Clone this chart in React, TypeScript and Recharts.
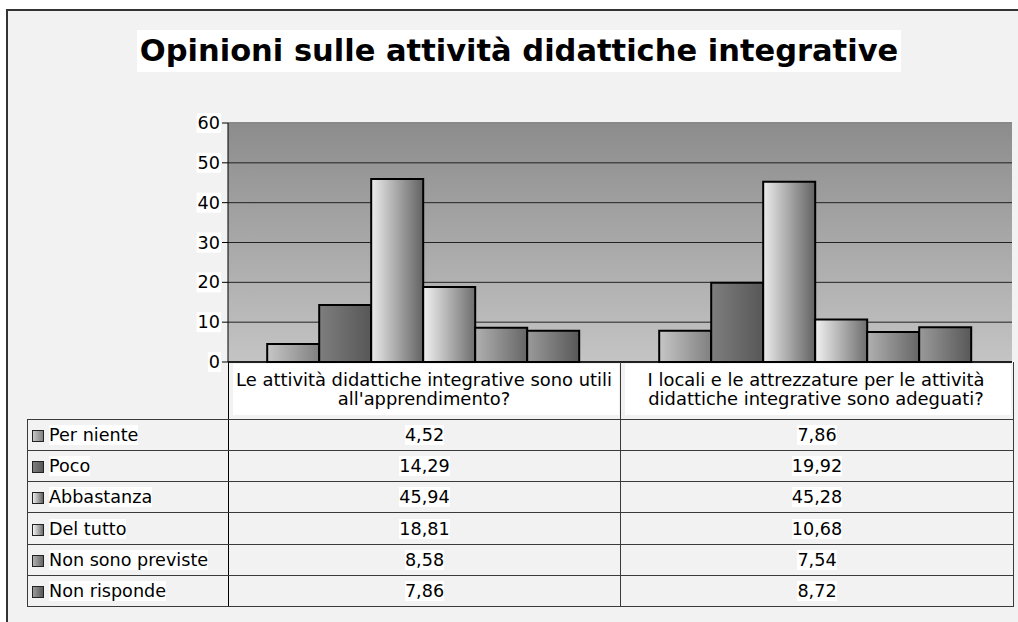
import React from 'react'
import { BarChart, Bar, XAxis, YAxis, CartesianGrid, ReferenceLine } from 'recharts'

const categories = ['q1', 'q2']
const categoryLines = [
  ['Le attività didattiche integrative sono utili', "all'apprendimento?"],
  ['I locali e le attrezzature per le attività', 'didattiche integrative sono adeguati?'],
]
const seriesNames = ['Per niente', 'Poco', 'Abbastanza', 'Del tutto', 'Non sono previste', 'Non risponde']
const perNiente = [4.52, 7.86]
const poco = [14.29, 19.92]
const abbastanza = [45.94, 45.28]
const delTutto = [18.81, 10.68]
const nonPreviste = [8.58, 7.54]
const nonRisponde = [7.86, 8.72]
const yTicks = [0, 10, 20, 30, 40, 50, 60]

const seriesValues = [perNiente, poco, abbastanza, delTutto, nonPreviste, nonRisponde]

// left / right shade of each bar gradient
const shades = [
  ['#c6c6c6', '#808080'],
  ['#7e7e7e', '#575757'],
  ['#ececec', '#626262'],
  ['#f2f2f2', '#6e6e6e'],
  ['#b0b0b0', '#666666'],
  ['#9a9a9a', '#585858'],
]

const data = categories.map((c, i) => {
  const row: Record<string, any> = { name: c, idx: i }
  seriesNames.forEach((s, k) => { row[s] = seriesValues[k][i] })
  return row
})

const FONT = '"DejaVu Sans", Verdana, sans-serif'
const fmt = (v: number) => v.toFixed(2).replace('.', ',')

function YTick({ x, y, payload }: any) {
  const label = String(payload.value)
  const w = label.length * 11.2 + 2
  return (
    <g>
      <rect x={x - w + 1} y={y - 10} width={w} height={20} fill="#fff" />
      <text x={x} y={y} textAnchor="end" dominantBaseline="central" fontSize={17.6} fontFamily={FONT} fill="#000">
        {label}
      </text>
    </g>
  )
}

function XTick({ x, y, payload }: any) {
  const lines = categoryLines[categories.indexOf(payload.value)] || []
  return (
    <g>
      <rect x={x - 191} y={y + 2} width={386} height={51} fill="#fff" />
      {lines.map((l, i) => (
        <text key={i} x={x} y={y + 17 + i * 19} textAnchor="middle" dominantBaseline="central" fontSize={17.9} fontFamily={FONT} fill="#000">
          {l}
        </text>
      ))}
    </g>
  )
}

const cellBorder = '1px solid #3a3a3a'

export default function App() {
  return (
    <div style={{ position: 'absolute', left: 0, top: 0, width: 1018, height: 622, background: '#fff', overflow: 'hidden', fontFamily: FONT }}>
      <div style={{ position: 'absolute', left: 6, top: 9, width: 1040, height: 640, border: '2px solid #333', background: '#f2f2f2' }} />
      <div style={{ position: 'absolute', left: 10, top: 30, width: 1018, textAlign: 'center' }}>
        <span style={{ background: '#fff', fontWeight: 'bold', fontSize: 30.5, lineHeight: '42px', padding: '0 3px', display: 'inline-block' }}>
          Opinioni sulle attività didattiche integrative
        </span>
      </div>
      <div style={{ position: 'absolute', left: 0, top: 0 }}>
        <BarChart
          width={1018}
          height={622}
          data={data}
          margin={{ top: 123, right: 6, left: 168, bottom: 203 }}
          barCategoryGap="10%"
          barGap={0}
        >
          <defs>
            <linearGradient id="plotBg" x1="0" y1="0" x2="0" y2="1">
              <stop offset="0%" stopColor="#8c8c8c" />
              <stop offset="100%" stopColor="#c4c4c4" />
            </linearGradient>
            {shades.map((s, i) => (
              <linearGradient key={i} id={`bar${i}`} x1="0" y1="0" x2="1" y2="0">
                <stop offset="0%" stopColor={s[0]} />
                <stop offset="100%" stopColor={s[1]} />
              </linearGradient>
            ))}
          </defs>
          <CartesianGrid vertical={false} stroke="#222" fill="url(#plotBg)" fillOpacity={1} />
          <XAxis
            dataKey="name"
            height={57}
            tickSize={0}
            tickMargin={0}
            axisLine={{ stroke: '#000', strokeWidth: 1.5 }}
            tickLine={false}
            tick={<XTick />}
            interval={0}
          />
          <YAxis
            width={60}
            domain={[0, 60]}
            ticks={yTicks}
            tickSize={6}
            tickMargin={2}
            axisLine={{ stroke: '#000' }}
            tickLine={{ stroke: '#000' }}
            tick={<YTick />}
          />
          <YAxis yAxisId="r" orientation="right" width={0} domain={[0, 60]} tick={false} tickLine={false} axisLine={{ stroke: '#888', strokeWidth: 2 }} />
          <ReferenceLine y={60} stroke="#888" strokeWidth={2} />
          {seriesNames.map((s, i) => (
            <Bar key={s} dataKey={s} fill={`url(#bar${i})`} stroke="#000" strokeWidth={2} isAnimationActive={false} />
          ))}
        </BarChart>
      </div>
      <table
        style={{
          position: 'absolute', left: 27, top: 362, borderCollapse: 'collapse', tableLayout: 'fixed',
          width: 986, fontSize: 17.6, fontFamily: FONT,
        }}
      >
        <colgroup>
          <col style={{ width: 201 }} />
          <col style={{ width: 392 }} />
          <col style={{ width: 393 }} />
        </colgroup>
        <tbody>
          <tr style={{ height: 57 }}>
            <td style={{ borderBottom: cellBorder, borderRight: '1px solid #000' }} />
            <td style={{ borderRight: cellBorder, borderBottom: cellBorder }} />
            <td style={{ borderRight: cellBorder, borderBottom: cellBorder }} />
          </tr>
          {seriesNames.map((s, i) => (
            <tr key={s} style={{ height: 31.33 }}>
              <td style={{ border: cellBorder, borderRight: '1px solid #000', padding: '0 0 0 4px', whiteSpace: 'nowrap' }}>
                <span
                  style={{
                    display: 'inline-block', width: 10, height: 10, marginRight: 5, verticalAlign: '-1px',
                    border: '1px solid #222', background: `linear-gradient(to right, ${shades[i][0]}, ${shades[i][1]})`,
                  }}
                />
                <span style={{ background: '#fff' }}>{s}</span>
              </td>
              {categories.map((c, k) => (
                <td key={c} style={{ border: cellBorder, textAlign: 'center', padding: 0 }}>
                  <span style={{ background: '#fff' }}>{fmt(seriesValues[i][k])}</span>
                </td>
              ))}
            </tr>
          ))}
        </tbody>
      </table>
    </div>
  )
}
